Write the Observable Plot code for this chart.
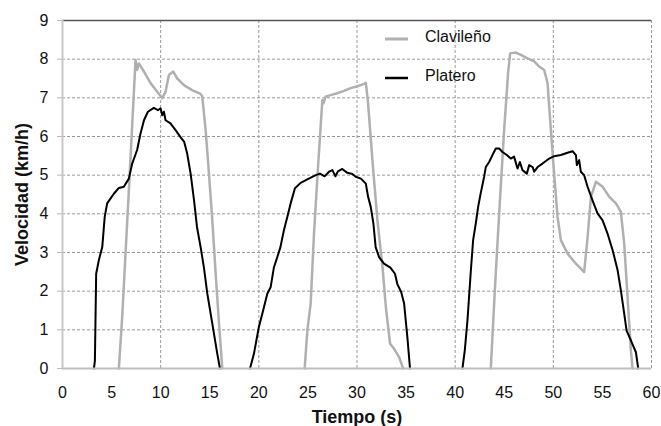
<!DOCTYPE html>
<html>
<head>
<meta charset="utf-8">
<script src="https://cdn.jsdelivr.net/npm/d3@7"></script>
<script src="https://cdn.jsdelivr.net/npm/@observablehq/plot@0.6"></script>
<style>
  html, body { margin: 0; padding: 0; background: #fff; }
  #wrap { position: relative; width: 661px; height: 426px; font-family: "Liberation Sans", Arial, sans-serif; }
  .leg { position: absolute; display: flex; align-items: center; font-size: 16px; color: #111; }
  .leg svg { margin-right: 17px; }
</style>
</head>
<body>
<div id="wrap"></div>
<script>
// ---- data ----
const xTicks = [0, 5, 10, 15, 20, 25, 30, 35, 40, 45, 50, 55, 60];
const yTicks = [0, 1, 2, 3, 4, 5, 6, 7, 8, 9];
const seriesNames = ["Clavileño", "Platero"];

const plateroT = [3.2, 3.3, 3.43, 3.7, 4.05, 4.3, 4.55, 4.9, 5.23, 5.74, 6.25, 6.76, 7.1, 7.6, 7.95, 8.3, 8.7, 9.3, 9.72, 9.99, 10.16, 10.33, 10.5, 11.0, 11.5, 12.0, 12.4, 12.7, 13.05, 13.4, 13.7, 14.07, 14.4, 14.75, 15.26, 15.77, 16.04,
  19.1, 19.5, 20.0, 20.36, 20.87, 21.2, 21.54, 21.88, 22.2, 22.56, 22.9, 23.24, 23.68, 24.26, 24.94, 25.8, 26.23, 26.7, 27.15, 27.5, 27.8, 28.06, 28.5, 29.02, 29.53, 29.87, 30.4, 30.9, 31.13, 31.4, 31.67, 31.9, 32.25, 32.75, 33.4, 33.87, 34.1, 34.5, 34.8, 35.13, 35.4,
  40.74, 40.98, 41.25, 41.6, 41.83, 42.1, 42.34, 42.6, 42.95, 43.12, 43.46, 43.8, 44.14, 44.48, 44.82, 45.26, 45.67, 46.0, 46.35, 46.59, 46.86, 47.3, 47.54, 47.89, 48.05, 48.4, 48.9, 49.58, 50.08, 50.77, 51.45, 51.96, 52.3, 52.4, 52.63, 52.8, 53.14, 53.49, 53.99, 54.5, 55.02, 55.52, 56.04, 56.55, 56.88, 57.22, 57.46, 57.9, 58.41, 58.65];
const plateroV = [0, 0.2, 2.45, 2.8, 3.14, 3.92, 4.27, 4.4, 4.52, 4.67, 4.7, 4.91, 5.3, 5.65, 6.08, 6.42, 6.64, 6.74, 6.68, 6.73, 6.55, 6.64, 6.42, 6.34, 6.17, 5.99, 5.86, 5.56, 5.04, 4.35, 3.66, 3.14, 2.62, 1.94, 1.16, 0.38, 0,
  0, 0.38, 1.07, 1.42, 1.94, 2.1, 2.62, 2.88, 3.14, 3.58, 3.92, 4.27, 4.66, 4.8, 4.89, 5.0, 5.04, 4.97, 5.09, 5.13, 4.97, 5.1, 5.16, 5.06, 5.03, 4.96, 4.91, 4.78, 4.44, 4.18, 3.75, 3.14, 2.88, 2.71, 2.61, 2.45, 2.19, 1.98, 1.68, 0.81, 0,
  0, 0.47, 1.24, 2.54, 3.32, 3.75, 4.18, 4.53, 4.96, 5.21, 5.34, 5.52, 5.69, 5.69, 5.6, 5.52, 5.43, 5.48, 5.17, 5.34, 5.13, 5.04, 5.26, 5.21, 5.09, 5.21, 5.3, 5.43, 5.49, 5.52, 5.58, 5.62, 5.52, 5.26, 5.39, 5.09, 5.0, 4.7, 4.35, 4.01, 3.83, 3.49, 3.06, 2.54, 2.02, 1.42, 0.98, 0.73, 0.42, 0];

const clavilenoT = [5.74, 6.08, 6.42, 6.76, 7.1, 7.44, 7.6, 7.78, 8.3, 8.97, 9.65, 10.16, 10.5, 10.84, 11.28, 11.69, 12.37, 13.2, 14.07, 14.24, 14.58, 14.92, 15.26, 15.6, 15.94, 16.28,
  24.67, 24.94, 25.28, 25.62, 26.03, 26.47, 26.58, 26.8, 27.3, 28.0, 28.68, 29.36, 30.04, 30.72, 30.9, 31.13, 31.57, 32.08, 32.6, 32.94, 33.37, 33.78, 34.3, 34.7,
  43.63, 44.04, 44.48, 44.99, 45.39, 45.6, 46.18, 46.69, 47.37, 48.05, 48.56, 49.07, 49.41, 49.75, 50.08, 50.43, 50.77, 51.45, 52.3, 52.8, 53.14, 53.49, 53.83, 54.34, 55.02, 55.7, 56.38, 56.88, 57.22, 57.56, 57.9, 58.07];
const clavilenoV = [0, 1.33, 2.97, 4.6, 6.3, 7.98, 7.72, 7.89, 7.68, 7.38, 7.16, 6.99, 7.16, 7.59, 7.68, 7.5, 7.33, 7.2, 7.1, 7.03, 6.17, 5.04, 3.83, 2.46, 1.17, 0,
  0, 0.98, 1.68, 3.49, 5.21, 6.94, 6.86, 7.03, 7.07, 7.12, 7.18, 7.25, 7.3, 7.36, 7.39, 6.86, 5.39, 3.83, 2.62, 1.59, 0.64, 0.51, 0.29, 0,
  0, 2.02, 4.0, 6.17, 7.64, 8.15, 8.17, 8.11, 8.02, 7.94, 7.81, 7.72, 7.38, 6.17, 5.04, 3.92, 3.32, 2.97, 2.71, 2.58, 2.49, 3.4, 4.44, 4.83, 4.7, 4.44, 4.27, 4.05, 3.23, 1.85, 0.47, 0];

// ---- build tables: split into runs (a new run starts after the line returns to zero) ----
function toRuns(T, V) {
  let run = 0;
  return T.map((t, i) => {
    if (i > 0 && V[i] === 0 && V[i - 1] === 0) run++;
    return {t, v: V[i], run};
  });
}
const platero = toRuns(plateroT, plateroV);
const clavileno = toRuns(clavilenoT, clavilenoV);

const GRAY = "#b0b0b0";
const FONT = "Liberation Sans, Arial, sans-serif";

const chart = Plot.plot({
  width: 661,
  height: 426,
  marginLeft: 62,
  marginRight: 10,
  marginTop: 20,
  marginBottom: 58,
  style: {fontFamily: FONT, fontSize: "16px", color: "#111", background: "#fff"},
  x: {domain: [0, 60]},
  y: {domain: [0, 9]},
  marks: [
    Plot.ruleY(yTicks.filter(d => d > 0 && d < 9), {stroke: "#9a9a9a", strokeDasharray: "3,2", strokeWidth: 1}),
    Plot.ruleX(xTicks.filter(d => d > 0 && d % 10 === 0), {stroke: "#9a9a9a", strokeDasharray: "3,2", strokeWidth: 1}),
    Plot.ruleY([9], {stroke: "#555", strokeWidth: 1.5}),
    Plot.line(clavileno, {x: "t", y: "v", z: "run", stroke: GRAY, strokeWidth: 2.5}),
    Plot.line(platero, {x: "t", y: "v", z: "run", stroke: "#000", strokeWidth: 2}),
    Plot.ruleY([0], {stroke: "#bdbdbd", strokeWidth: 2}),
    Plot.ruleX([0], {stroke: "#c8c8c8", strokeWidth: 2}),
    Plot.axisY({ticks: yTicks, tickFormat: d => d, tickSize: 5, tickPadding: 9, stroke: "#bbb", label: null}),
    Plot.axisX({ticks: xTicks, tickFormat: d => d, tickSize: 0, tickPadding: 18, label: null}),
    Plot.text(["Velocidad (km/h)"], {frameAnchor: "left", dx: -40, rotate: -90, fontWeight: "bold", fontSize: 18, fill: "#111", textAnchor: "middle", lineAnchor: "middle"}),
    Plot.text(["Tiempo (s)"], {frameAnchor: "bottom", dy: 49, fontWeight: "bold", fontSize: 18, fill: "#111", textAnchor: "middle", lineAnchor: "middle"})
  ]
});

const wrap = document.getElementById("wrap");
wrap.appendChild(chart);

// legend
const legendItems = [
  {name: seriesNames[0], color: GRAY, w: 2.5, top: 27},
  {name: seriesNames[1], color: "#000", w: 2, top: 66}
];
for (const it of legendItems) {
  const d = document.createElement("div");
  d.className = "leg";
  d.style.left = "385px";
  d.style.top = it.top + "px";
  d.innerHTML = `<svg width="23" height="20"><line x1="0" x2="23" y1="12" y2="12" stroke="${it.color}" stroke-width="${it.w + 0.5}"/></svg><span>${it.name}</span>`;
  wrap.appendChild(d);
}
</script>
</body>
</html>
